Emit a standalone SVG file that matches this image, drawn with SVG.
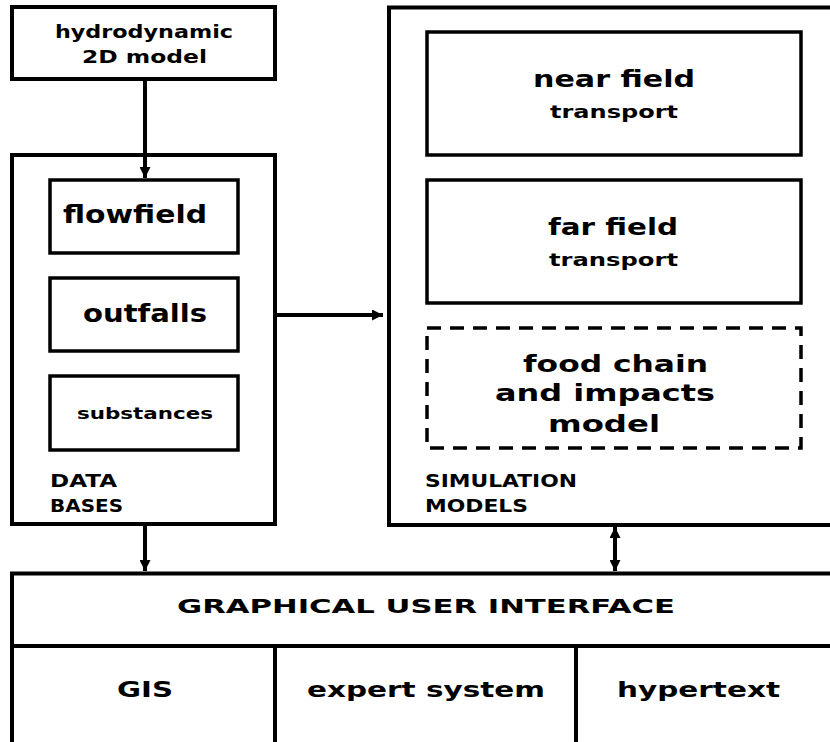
<svg xmlns="http://www.w3.org/2000/svg" width="830" height="742" viewBox="0 0 830 742">
<style>
  .outer { fill: #fff; stroke: #000; stroke-width: 4; }
  .inner { fill: #fff; stroke: #000; stroke-width: 3.5; }
  .dash { fill: none; stroke: #000; stroke-width: 3.5; stroke-dasharray: 14 9; }
  .conn { stroke: #000; stroke-width: 4; fill: none; }
  text { font-family: "DejaVu Sans", "Liberation Sans", sans-serif; font-weight: bold; fill: #000; }
</style>
<defs>
  <marker id="ah" viewBox="0 0 10 10" refX="10" refY="5" markerWidth="12" markerHeight="11" markerUnits="userSpaceOnUse" orient="auto-start-reverse">
    <path d="M0,0 L10,5 L0,10 z" fill="#000"/>
  </marker>
</defs>
<rect width="830" height="742" fill="#fff"/>

<g id="hydro">
  <rect class="outer" x="12" y="7" width="263" height="72"/>
  <text x="55" y="38" font-size="18" textLength="178" lengthAdjust="spacingAndGlyphs">hydrodynamic</text>
  <text x="82" y="63" font-size="18" textLength="125" lengthAdjust="spacingAndGlyphs">2D model</text>
</g>

<g id="databases">
  <rect class="outer" x="12" y="155" width="263" height="369"/>
  <text x="50" y="487" font-size="17" textLength="67" lengthAdjust="spacingAndGlyphs">DATA</text>
  <text x="50" y="512" font-size="17" textLength="73" lengthAdjust="spacingAndGlyphs">BASES</text>
</g>
<g id="flowfield">
  <rect class="inner" x="50" y="180" width="188" height="73"/>
  <text x="63" y="223" font-size="24" textLength="144" lengthAdjust="spacingAndGlyphs">flowfield</text>
</g>
<g id="outfalls">
  <rect class="inner" x="50" y="278" width="188" height="73"/>
  <text x="83" y="322" font-size="24" textLength="124" lengthAdjust="spacingAndGlyphs">outfalls</text>
</g>
<g id="substances">
  <rect class="inner" x="50" y="376" width="188" height="74"/>
  <text x="77" y="419" font-size="15" textLength="136" lengthAdjust="spacingAndGlyphs">substances</text>
</g>

<g id="simulation">
  <rect class="outer" x="389" y="7.5" width="460" height="517.5"/>
  <text x="425" y="487" font-size="17" textLength="152" lengthAdjust="spacingAndGlyphs">SIMULATION</text>
  <text x="425" y="512" font-size="17" textLength="103" lengthAdjust="spacingAndGlyphs">MODELS</text>
</g>
<g id="nearfield">
  <rect class="inner" x="427" y="32" width="374" height="123"/>
  <text x="533" y="87" font-size="23" textLength="162" lengthAdjust="spacingAndGlyphs">near field</text>
  <text x="550" y="118" font-size="18" textLength="128" lengthAdjust="spacingAndGlyphs">transport</text>
</g>
<g id="farfield">
  <rect class="inner" x="427" y="180" width="374" height="123"/>
  <text x="548" y="235" font-size="23" textLength="130" lengthAdjust="spacingAndGlyphs">far field</text>
  <text x="549" y="266" font-size="18" textLength="129" lengthAdjust="spacingAndGlyphs">transport</text>
</g>
<g id="foodchain">
  <rect class="dash" x="427" y="328" width="374" height="120"/>
  <text x="523" y="372" font-size="23" textLength="185" lengthAdjust="spacingAndGlyphs">food chain</text>
  <text x="495" y="401" font-size="23" textLength="220" lengthAdjust="spacingAndGlyphs">and impacts</text>
  <text x="548" y="432" font-size="23" textLength="112" lengthAdjust="spacingAndGlyphs">model</text>
</g>

<g id="gui">
  <rect class="outer" x="12" y="573.5" width="840" height="200"/>
  <line class="conn" x1="12" y1="646" x2="830" y2="646"/>
  <line class="conn" x1="275" y1="646" x2="275" y2="742"/>
  <line class="conn" x1="576" y1="646" x2="576" y2="742"/>
  <text x="177" y="613" font-size="20" textLength="498" lengthAdjust="spacingAndGlyphs">GRAPHICAL  USER  INTERFACE</text>
</g>
<g id="gis">
  <text x="117" y="697" font-size="21" textLength="56" lengthAdjust="spacingAndGlyphs">GIS</text>
</g>
<g id="expert">
  <text x="307" y="697" font-size="22" textLength="238" lengthAdjust="spacingAndGlyphs">expert system</text>
</g>
<g id="hypertext">
  <text x="617" y="697" font-size="22" textLength="163" lengthAdjust="spacingAndGlyphs">hypertext</text>
</g>

<g id="connectors">
  <line class="conn" x1="145" y1="79" x2="145" y2="178" marker-end="url(#ah)"/>
  <line class="conn" x1="275" y1="315" x2="383" y2="315" stroke-width="3.5" marker-end="url(#ah)"/>
  <line class="conn" x1="145" y1="526" x2="145" y2="571" marker-end="url(#ah)"/>
  <line class="conn" x1="615" y1="527" x2="615" y2="571" marker-start="url(#ah)" marker-end="url(#ah)"/>
</g>
</svg>
